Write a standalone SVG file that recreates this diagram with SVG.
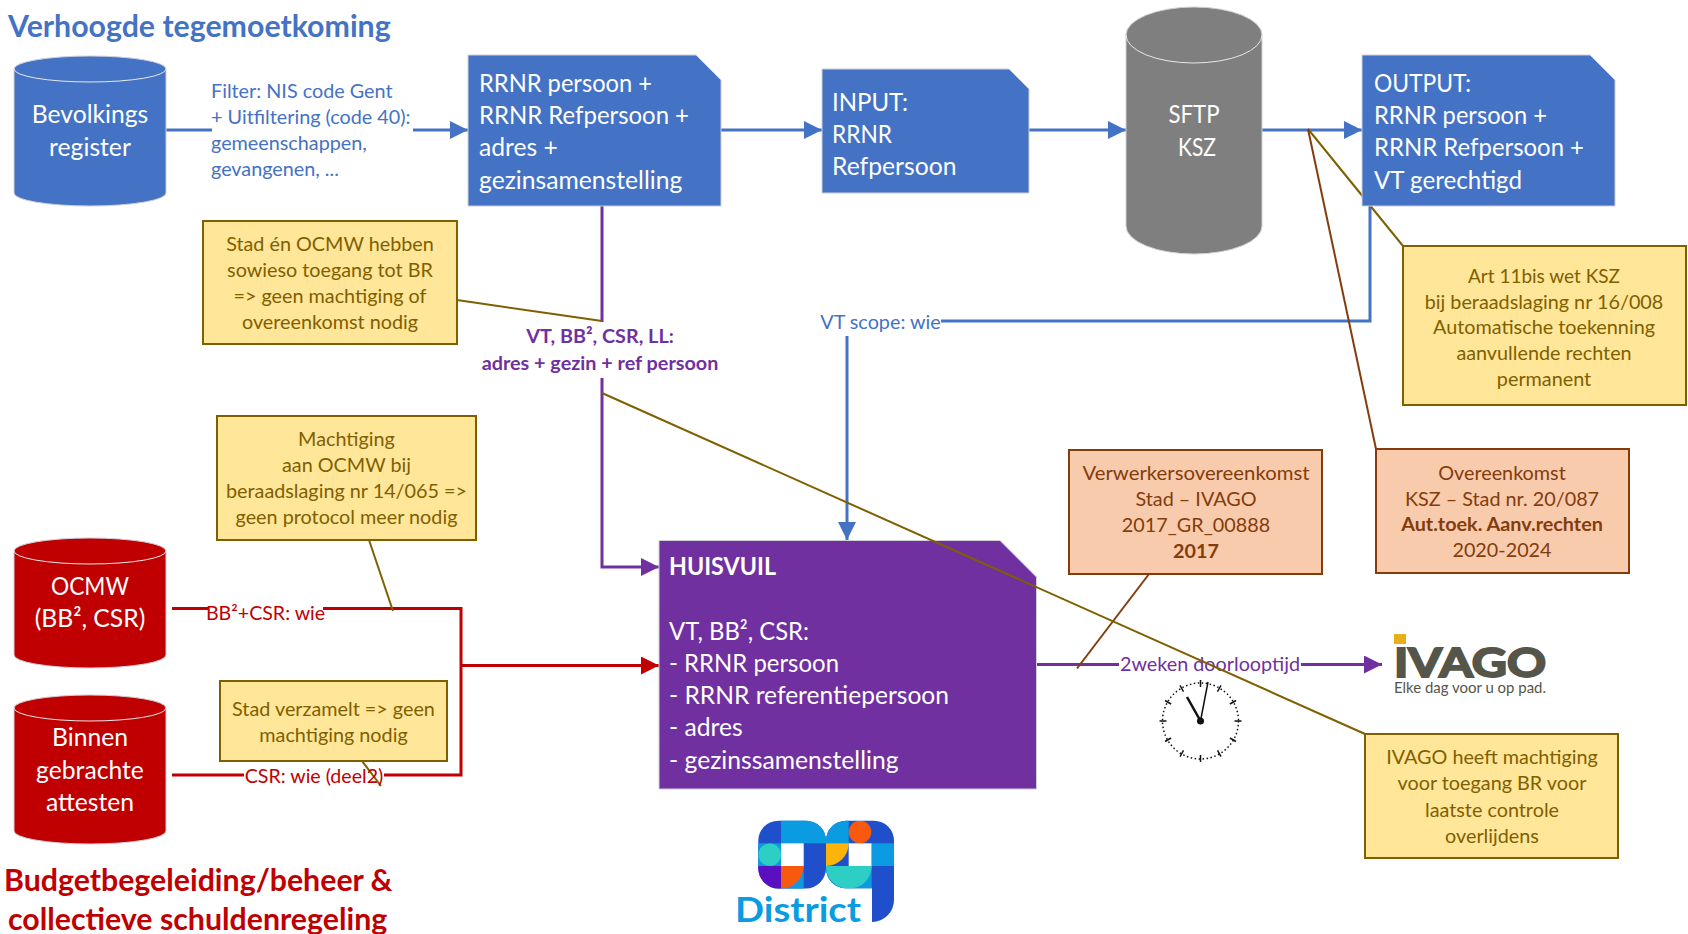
<svg xmlns="http://www.w3.org/2000/svg" width="1688" height="934" viewBox="0 0 1688 934">
<style>
text{font-family:Lato,"Open Sans","Liberation Sans",sans-serif}
.w{fill:#fff;font-size:24.7px}
.wc{fill:#fff;font-size:24.7px;text-anchor:middle}
.y{fill:#7F6000;font-size:19.8px;text-anchor:middle}
.o{fill:#843C0C;font-size:19.8px;text-anchor:middle}
.h{font-weight:700;font-size:30.3px}
.yb{fill:#FFE699;stroke:#7F6000;stroke-width:2}
.ob{fill:#F8CBAD;stroke:#843C0C;stroke-width:2}
.rim{fill:none;stroke:#e8e8e8;stroke-width:1}
.blue{fill:#4472C4}.red{fill:#C00000}.gray{fill:#7F7F7F}.pur{fill:#7030A0}
.edge{stroke:#cfcfd8;stroke-width:1}
.cb,.cr,.cp,.cy,.cbr{fill:none}
.cb{stroke:#4472C4;stroke-width:3}
.cr{stroke:#C00000;stroke-width:3}
.cp{stroke:#7030A0;stroke-width:3}
.cy{stroke:#7F6000;stroke-width:2}
.cbr{stroke:#843C0C;stroke-width:2}
.lb{fill:#4472C4;font-size:19.8px}
.lr{fill:#C00000;font-size:19.6px}
.lp{fill:#7030A0;font-size:19.8px}
</style>
<defs>
<marker id="ab" markerUnits="userSpaceOnUse" markerWidth="18" markerHeight="18" refX="18" refY="9" orient="auto"><path d="M0 0L18 9L0 18Z" fill="#4472C4"/></marker>
<marker id="ar" markerUnits="userSpaceOnUse" markerWidth="18" markerHeight="18" refX="18" refY="9" orient="auto"><path d="M0 0L18 9L0 18Z" fill="#C00000"/></marker>
<marker id="ap" markerUnits="userSpaceOnUse" markerWidth="18" markerHeight="18" refX="18" refY="9" orient="auto"><path d="M0 0L18 9L0 18Z" fill="#7030A0"/></marker>
<clipPath id="c0"><rect x="758.3" y="820.7" width="67.7" height="67.7" rx="20"/></clipPath>
<clipPath id="c9"><path d="M846 820.7H874a20 20 0 0 1 20 20V900a22 22 0 0 1-22 22V888.3H846a20 20 0 0 1-20-20V840.7a20 20 0 0 1 20-20Z"/></clipPath>
<line id="tick" x1="1200.5" y1="680" x2="1200.5" y2="687" stroke="#111" stroke-width="1.5"/>
</defs>

<text x="8" y="37" class="h blue">Verhoogde tegemoetkoming</text>
<text x="4" y="891" class="h red">Budgetbegeleiding/beheer &amp;</text>
<text x="8" y="930" class="h red">collectieve schuldenregeling</text>

<g id="connectors">
<path class="cb" d="M166 130H212"/>
<path class="cb" d="M413 130H468" marker-end="url(#ab)"/>
<path class="cb" d="M721 130H822" marker-end="url(#ab)"/>
<path class="cb" d="M1029 130H1126" marker-end="url(#ab)"/>
<path class="cb" d="M1262 130H1362" marker-end="url(#ab)"/>
<path class="cb" d="M1370 206V321H941"/>
<path class="cb" d="M847 336V540" marker-end="url(#ab)"/>
<path class="cp" d="M602 206V322"/>
<path class="cp" d="M602 378V567H659" marker-end="url(#ap)"/>
<path class="cr" d="M172 608.5H208M323 608.5H461V775H384M244 775H172"/>
<path class="cr" d="M461 665.5H659" marker-end="url(#ar)"/>
<path class="cp" d="M1037 664.5H1119"/>
<path class="cp" d="M1301 664.5H1382" marker-end="url(#ap)"/>
<path class="cy" d="M457 300L602 321"/>
<path class="cy" d="M369 540L393 611"/>
<path class="cy" d="M362 761L381 786"/>
<path class="cy" d="M1403 246L1308 129"/>
<path class="cbr" d="M1376 449L1308 129"/>
<path class="cbr" d="M1149 574L1077 668.5"/>
<text x="211" y="98" class="lb">Filter: NIS code Gent</text>
<text x="211" y="124" class="lb">+ Uitfiltering (code 40):</text>
<text x="211" y="150" class="lb">gemeenschappen,</text>
<text x="211" y="176" class="lb">gevangenen, ...</text>
<text x="880.5" y="329" class="lb" text-anchor="middle">VT scope: wie</text>
<text x="600" y="343" class="lp" font-weight="700" text-anchor="middle">VT, BB², CSR, LL:</text>
<text x="600" y="370" class="lp" font-weight="700" text-anchor="middle">adres + gezin + ref persoon</text>
<text x="265.5" y="620" class="lr" text-anchor="middle">BB²+CSR: wie</text>
<text x="314" y="783" class="lr" text-anchor="middle">CSR: wie (deel2)</text>
<text x="1210" y="671" class="lp" text-anchor="middle">2weken doorlooptijd</text>
</g>

<g id="bevolkingsregister">
<path class="blue edge" d="M14 69A76 13 0 0 1 166 69V193A76 13 0 0 1 14 193Z"/>
<path class="rim" d="M14 69A76 13 0 0 0 166 69"/>
<text x="90" y="123" class="wc">Bevolkings</text><text x="90" y="156" class="wc">register</text>
</g>
<g id="sftp-ksz">
<path class="gray edge" d="M1126 35A68 28 0 0 1 1262 35V226A68 28 0 0 1 1126 226Z"/>
<path class="rim" d="M1126 35A68 28 0 0 0 1262 35"/>
<text x="1194" y="123" class="wc" textLength="51" lengthAdjust="spacingAndGlyphs">SFTP</text><text x="1197" y="156" class="wc" textLength="38" lengthAdjust="spacingAndGlyphs">KSZ</text>
</g>
<g id="ocmw">
<path class="red edge" d="M14 551A76 13 0 0 1 166 551V655A76 13 0 0 1 14 655Z"/>
<path class="rim" d="M14 551A76 13 0 0 0 166 551"/>
<text x="90" y="595" class="wc" textLength="78" lengthAdjust="spacingAndGlyphs">OCMW</text><text x="90" y="627" class="wc">(BB², CSR)</text>
</g>
<g id="binnen">
<path class="red edge" d="M14 708A76 13 0 0 1 166 708V831A76 13 0 0 1 14 831Z"/>
<path class="rim" d="M14 708A76 13 0 0 0 166 708"/>
<text x="90" y="746" class="wc">Binnen</text><text x="90" y="779" class="wc">gebrachte</text><text x="90" y="811" class="wc">attesten</text>
</g>
<g id="doc-rrnr">
<path class="blue edge" d="M468 55H696L721 80V206H468Z"/>
<text x="479" y="92" class="w" textLength="173" lengthAdjust="spacingAndGlyphs">RRNR persoon +</text><text x="479" y="124" class="w" textLength="210" lengthAdjust="spacingAndGlyphs">RRNR Refpersoon +</text><text x="479" y="156" class="w">adres +</text><text x="479" y="189" class="w">gezinsamenstelling</text>
</g>
<g id="doc-input">
<path class="blue edge" d="M822 69H1009L1029 89V193H822Z"/>
<text x="832" y="110.5" class="w" textLength="76" lengthAdjust="spacingAndGlyphs">INPUT:</text><text x="832" y="142.5" class="w" textLength="60" lengthAdjust="spacingAndGlyphs">RRNR</text><text x="832" y="174.5" class="w">Refpersoon</text>
</g>
<g id="doc-output">
<path class="blue edge" d="M1362 55H1590L1615 80V206H1362Z"/>
<text x="1374" y="92" class="w" textLength="97" lengthAdjust="spacingAndGlyphs">OUTPUT:</text><text x="1374" y="124" class="w" textLength="173" lengthAdjust="spacingAndGlyphs">RRNR persoon +</text><text x="1374" y="156" class="w" textLength="210" lengthAdjust="spacingAndGlyphs">RRNR Refpersoon +</text><text x="1374" y="189" class="w" textLength="148" lengthAdjust="spacingAndGlyphs">VT gerechtigd</text>
</g>
<g id="huisvuil">
<path class="pur edge" d="M659 540.5H1000L1036.5 577V789H659Z"/>
<text x="669" y="575" class="w" font-weight="700" textLength="107" lengthAdjust="spacingAndGlyphs">HUISVUIL</text>
<text x="669" y="640" class="w" textLength="140" lengthAdjust="spacingAndGlyphs">VT, BB², CSR:</text><text x="669" y="672" class="w" textLength="170" lengthAdjust="spacingAndGlyphs">- RRNR persoon</text><text x="669" y="704" class="w" textLength="280" lengthAdjust="spacingAndGlyphs">- RRNR referentiepersoon</text><text x="669" y="736" class="w">- adres</text><text x="669" y="769" class="w">- gezinssamenstelling</text>
</g>
<g id="note-stad-ocmw">
<rect class="yb" x="203" y="221" width="254" height="123"/>
<text x="330" y="250.5" class="y">Stad én OCMW hebben</text><text x="330" y="276.5" class="y">sowieso toegang tot BR</text><text x="330" y="302.5" class="y">=&gt; geen machtiging of</text><text x="330" y="328.5" class="y">overeenkomst nodig</text>
</g>
<g id="note-machtiging">
<rect class="yb" x="217" y="416" width="259" height="124"/>
<text x="346.5" y="445.5" class="y">Machtiging</text><text x="346.5" y="471.5" class="y">aan OCMW bij</text><text x="346.5" y="498" class="y">beraadslaging nr 14/065 =&gt;</text><text x="346.5" y="524" class="y">geen protocol meer nodig</text>
</g>
<g id="note-stad-verzamelt">
<rect class="yb" x="220" y="681" width="227" height="80"/>
<text x="333.5" y="715.5" class="y">Stad verzamelt =&gt; geen</text><text x="333.5" y="741.5" class="y">machtiging nodig</text>
</g>
<g id="note-art11">
<rect class="yb" x="1403" y="246" width="283" height="159"/>
<text x="1544" y="282.5" class="y" textLength="152" lengthAdjust="spacingAndGlyphs">Art 11bis wet KSZ</text><text x="1544" y="308.5" class="y">bij beraadslaging nr 16/008</text><text x="1544" y="333.5" class="y">Automatische toekenning</text><text x="1544" y="359.5" class="y">aanvullende rechten</text><text x="1544" y="385.5" class="y">permanent</text>
</g>
<g id="note-ovk-ksz">
<rect class="ob" x="1376" y="449" width="253" height="124"/>
<text x="1502" y="479.5" class="o">Overeenkomst</text><text x="1502" y="505.5" class="o">KSZ – Stad  nr. 20/087</text><text x="1502" y="531" class="o" font-weight="700">Aut.toek. Aanv.rechten</text><text x="1502" y="557" class="o">2020-2024</text>
</g>
<g id="note-verwerker">
<rect class="ob" x="1069" y="450" width="253" height="124"/>
<text x="1196" y="479.5" class="o" textLength="227" lengthAdjust="spacingAndGlyphs">Verwerkersovereenkomst</text><text x="1196" y="505.5" class="o">Stad – IVAGO</text><text x="1196" y="532" class="o">2017_GR_00888</text><text x="1196" y="557.5" class="o" font-weight="700">2017</text>
</g>
<g id="note-ivago">
<rect class="yb" x="1365" y="734" width="253" height="124"/>
<text x="1492" y="764" class="y">IVAGO heeft machtiging</text><text x="1492" y="790" class="y">voor toegang BR voor</text><text x="1492" y="817" class="y">laatste controle</text><text x="1492" y="842.5" class="y">overlijdens</text>
</g>

<g id="clock">
<circle cx="1200.5" cy="721" r="38" fill="none" stroke="#111" stroke-width="1.5" stroke-dasharray="1.5 2.5"/>
<use href="#tick"/><use href="#tick" transform="rotate(30 1200.5 721)"/><use href="#tick" transform="rotate(60 1200.5 721)"/><use href="#tick" transform="rotate(90 1200.5 721)"/><use href="#tick" transform="rotate(120 1200.5 721)"/><use href="#tick" transform="rotate(150 1200.5 721)"/><use href="#tick" transform="rotate(180 1200.5 721)"/><use href="#tick" transform="rotate(210 1200.5 721)"/><use href="#tick" transform="rotate(240 1200.5 721)"/><use href="#tick" transform="rotate(270 1200.5 721)"/><use href="#tick" transform="rotate(300 1200.5 721)"/><use href="#tick" transform="rotate(330 1200.5 721)"/>
<path d="M1200.5 721L1187 697" stroke="#111" stroke-width="2.5" fill="none"/>
<path d="M1200.5 721L1208 682" stroke="#111" stroke-width="1.5" fill="none"/>
<circle cx="1200.5" cy="721" r="3.5" fill="#111"/>
</g>
<g id="ivago-logo">
<rect x="1394" y="634" width="12" height="10" fill="#E8AE1C"/>
<text x="1394" y="677" font-family="Liberation Sans" font-weight="700" font-size="41" fill="#55554A" stroke="#55554A" stroke-width="2" textLength="152" lengthAdjust="spacingAndGlyphs">IVAGO</text>
<text x="1394" y="693" font-family="Liberation Sans" font-size="15" fill="#55554A" textLength="152" lengthAdjust="spacingAndGlyphs">Elke dag voor u op pad.</text>
</g>
<g id="district-logo">
<g clip-path="url(#c0)">
<rect x="758" y="820" width="69" height="69" fill="#1F4FCB"/>
<rect x="781" y="820" width="46" height="23.3" fill="#0A9BE0"/>
<rect x="758" y="843.3" width="23" height="22.7" fill="#0A9BE0"/>
<circle cx="769.7" cy="854.7" r="11.3" fill="#2DCFC4"/>
<rect x="781" y="843.3" width="22.7" height="22.7" fill="#fff"/>
<rect x="758" y="866" width="23" height="23" fill="#5A10C0"/>
<rect x="781" y="866" width="22.7" height="23" fill="#0A9BE0"/>
<path d="M781 866H803.7A22.7 22.7 0 0 1 781 888.7Z" fill="#F9590F"/>
</g>
<g clip-path="url(#c9)">
<rect x="826" y="820" width="68.5" height="103" fill="#1F4FCB"/>
<rect x="826" y="820" width="22.7" height="23.3" fill="#0A9BE0"/>
<circle cx="860" cy="832" r="11.3" fill="#F9590F"/>
<path d="M826 843.3H848.7A22.7 22.7 0 0 1 826 866Z" fill="#FDB408"/>
<rect x="848.7" y="843.3" width="23" height="22.7" fill="#fff"/>
<rect x="871.7" y="843.3" width="23" height="22.7" fill="#0A9BE0"/>
<rect x="826" y="866" width="45.7" height="23" fill="#0A9BE0"/>
<path d="M826 866H871.7A22.8 22.8 0 0 1 826 866Z" fill="#2DCFC4"/>
</g>
<text x="735" y="922" font-family="Noto Sans" font-weight="700" font-size="35" fill="#0A9BE0" textLength="126" lengthAdjust="spacingAndGlyphs">District</text>
</g>
<g id="connectors-over">
<path class="cy" d="M1365 734L602 393"/>
</g>
</svg>
